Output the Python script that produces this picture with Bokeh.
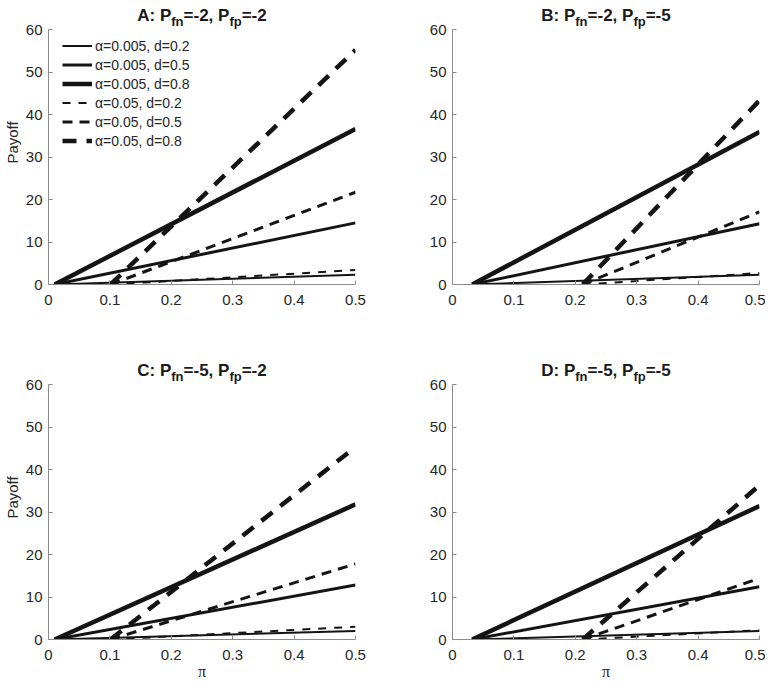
from bokeh.plotting import figure
from bokeh.models import Range1d, FixedTicker, Legend, LegendItem, Label
from bokeh.layouts import gridplot
from bokeh.embed import file_html
from bokeh.resources import INLINE

# ---------------- data ----------------
panel_letters = ["A", "B", "C", "D"]
p_fn = [-2, -2, -5, -5]
p_fp = [-2, -5, -2, -5]
effect_sizes = [0.2, 0.5, 0.8]
alpha_strict = 0.005
alpha_loose = 0.05

# pi at which each payoff line starts (payoff ~ 0)
pi_start_strict = [0.010, 0.032, 0.010, 0.032]
pi_start_loose = [0.101, 0.212, 0.101, 0.212]
pi_end = 0.5
# payoff at pi = 0.5 ; per panel, for d = 0.2, 0.5, 0.8
payoff_end_strict = [[2.3, 14.5, 36.6], [2.3, 14.3, 35.9], [2.0, 12.8, 31.8], [2.0, 12.4, 31.4]]
payoff_end_loose = [[3.4, 21.7, 55.2], [2.7, 17.1, 43.3], [3.0, 17.8, 45.3], [2.2, 14.4, 36.3]]
payoff_start = 0.0

x_ticks = [0, 0.1, 0.2, 0.3, 0.4, 0.5]
x_tick_labels = ["0", "0.1", "0.2", "0.3", "0.4", "0.5"]
y_ticks = [0, 10, 20, 30, 40, 50, 60]
x_min, x_max = 0, 0.5
y_min, y_max = 0, 60
x_title = "π"
y_title = "Payoff"

# ---------------- style ----------------
LINE_COLOR = "#141414"
AXIS_COLOR = "#8c8c8c"
TEXT_COLOR = "#262626"
FONT = "Liberation Sans"
widths = [2.0, 3.0, 4.5]
dashes = ["8 8", "10 7", "14 10"]
FW = 307          # frame width (px)
PLOT_H = 255      # height of the 0..60 data area (px)
TOP_PAD = 29      # room above the data area for the panel title (px)
TITLE_S, TITLE_s = 17, 13

# Arial/Liberation Sans Bold advance widths (per 1000 em)
BOLD_W = {'A': 722, ':': 333, ' ': 278, 'P': 667, 'f': 333, 'n': 611, 'p': 611,
          '=': 584, '-': 333, '2': 556, '5': 556, ',': 278, 'B': 722, 'C': 722, 'D': 722}


def text_w(s, size):
    return sum(BOLD_W.get(c, 556) for c in s) * size / 1000.0


def make_panel(i):
    left_col = i % 2 == 0
    bottom_row = i >= 2
    px_per_x = FW / (x_max - x_min)
    px_per_y = PLOT_H / (y_max - y_min)
    y_top = y_max + TOP_PAD / px_per_y
    p = figure(
        frame_width=FW, frame_height=PLOT_H + TOP_PAD,
        x_range=Range1d(x_min, x_max), y_range=Range1d(y_min, y_top),
        output_backend="svg", toolbar_location=None,
        min_border_left=48 if left_col else 40,
        min_border_right=57 if left_col else 6,
        min_border_top=0,
        min_border_bottom=47 if bottom_row else 71,
        background_fill_color="white", border_fill_color="white",
    )
    p.outline_line_color = None
    p.grid.visible = False

    for ax in (p.xaxis[0], p.yaxis[0]):
        ax.axis_line_color = AXIS_COLOR
        ax.major_tick_line_color = AXIS_COLOR
        ax.minor_tick_line_color = None
        ax.major_tick_in = 4
        ax.major_tick_out = 0
        ax.major_label_text_font = FONT
        ax.major_label_text_font_size = "15px"
        ax.major_label_text_color = TEXT_COLOR
        ax.axis_label_text_font_style = "normal"
        ax.axis_label_text_color = TEXT_COLOR

    p.xaxis.ticker = FixedTicker(ticks=x_ticks)
    p.xaxis.major_label_overrides = {t: l for t, l in zip(x_ticks, x_tick_labels)}
    p.xaxis.major_label_standoff = 10
    p.yaxis.ticker = FixedTicker(ticks=y_ticks)
    p.yaxis.bounds = (y_min, y_max)
    p.yaxis.major_label_standoff = 6

    if left_col:
        p.yaxis.axis_label = y_title
        p.yaxis.axis_label_text_font = FONT
        p.yaxis.axis_label_text_font_size = "15px"
        p.yaxis.axis_label_standoff = 2
    if bottom_row:
        p.xaxis.axis_label = x_title
        p.xaxis.axis_label_text_font = "Liberation Serif"
        p.xaxis.axis_label_text_font_size = "16px"
        p.xaxis.axis_label_standoff = 0

    renderers = []
    for k, d in enumerate(effect_sizes):
        r = p.line([pi_start_strict[i], pi_end], [payoff_start, payoff_end_strict[i][k]],
                   line_color=LINE_COLOR, line_width=widths[k])
        renderers.append((f"α={alpha_strict}, d={d}", r))
    for k, d in enumerate(effect_sizes):
        r = p.line([pi_start_loose[i], pi_end], [payoff_start, payoff_end_loose[i][k]],
                   line_color=LINE_COLOR, line_width=widths[k], line_dash=dashes[k])
        renderers.append((f"α={alpha_loose}, d={d}", r))

    if i == 0:
        legend_h = 6 * 19 + 10
        legend = Legend(
            items=[LegendItem(label=lab, renderers=[r]) for lab, r in renderers],
            location=(9, PLOT_H - 2 - legend_h),
            padding=5, margin=0, spacing=0,
            glyph_width=30, glyph_height=19, label_height=19, label_standoff=3,
            label_text_font=FONT, label_text_font_size="14px", label_text_color=TEXT_COLOR,
            border_line_alpha=0, background_fill_alpha=0,
        )
        p.add_layout(legend, "center")

    # title with subscripts
    letter = panel_letters[i]
    pieces = [(f"{letter}: P", TITLE_S, 0), ("fn", TITLE_s, 1),
              (f"={p_fn[i]}, P", TITLE_S, 0), ("fp", TITLE_s, 1),
              (f"={p_fp[i]}", TITLE_S, 0)]
    total = sum(text_w(t, s) for t, s, _ in pieces)
    xpx = FW / 2.0 - total / 2.0
    for t, s, sub in pieces:
        above = 8.0 if sub else 14.5
        p.add_layout(Label(
            x=x_min + xpx / px_per_x, y=y_max + above / px_per_y, text=t,
            text_font=FONT, text_font_style="bold", text_font_size=f"{s}px",
            text_color="#1a1a1a", text_align="left", text_baseline="alphabetic",
        ))
        xpx += text_w(t, s)
    return p


panels = [make_panel(i) for i in range(4)]
grid = gridplot([[panels[0], panels[1]], [panels[2], panels[3]]], toolbar_location=None)

open("out.html", "w").write(file_html(grid, INLINE))
